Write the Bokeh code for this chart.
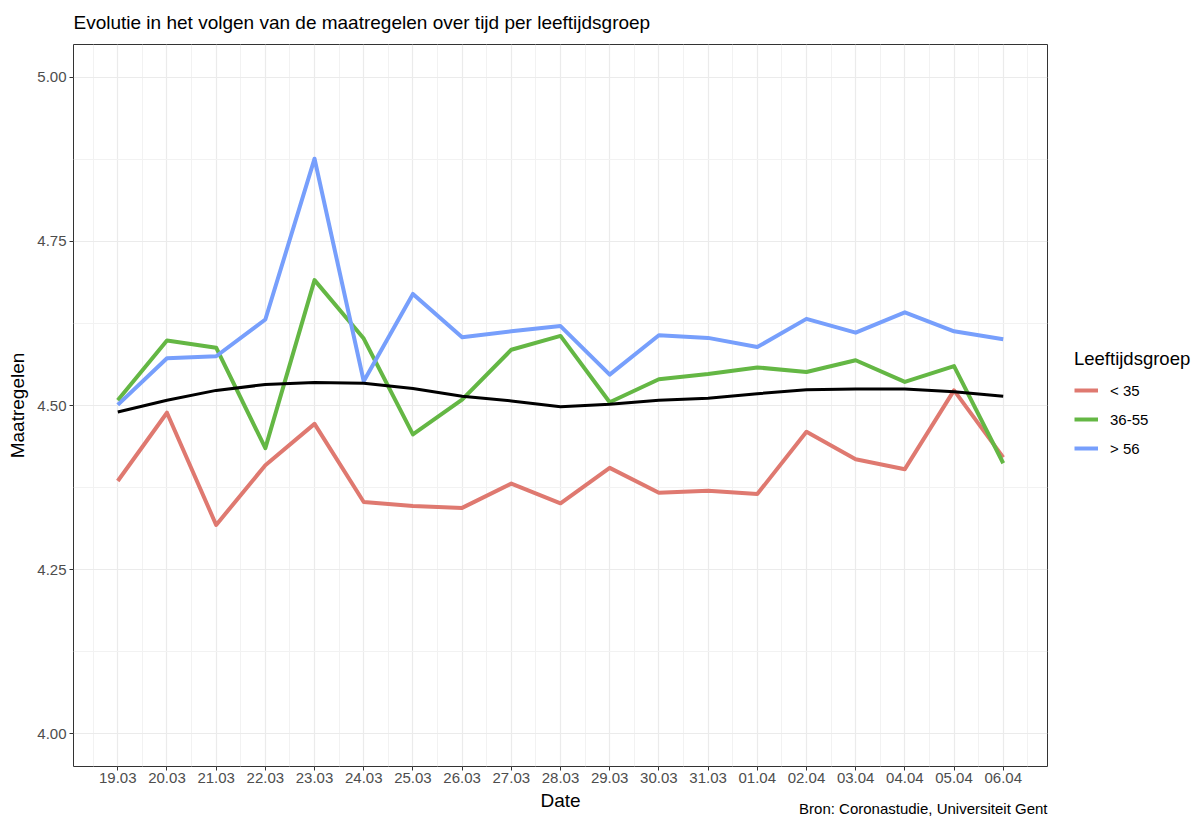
from bokeh.plotting import figure
from bokeh.layouts import row
from bokeh.models import FixedTicker, Range1d, Legend, LegendItem, Title, NumeralTickFormatter
from bokeh.embed import file_html
from bokeh.resources import INLINE

# ---- data ----
dates = ["19.03", "20.03", "21.03", "22.03", "23.03", "24.03", "25.03", "26.03", "27.03",
         "28.03", "29.03", "30.03", "31.03", "01.04", "02.04", "03.04", "04.04", "05.04", "06.04"]
groups = ["< 35", "36-55", "> 56"]
young = [4.385, 4.489, 4.318, 4.409, 4.472, 4.353, 4.347, 4.344, 4.381, 4.351,
         4.405, 4.367, 4.370, 4.365, 4.460, 4.418, 4.403, 4.523, 4.421]
middle = [4.508, 4.599, 4.588, 4.435, 4.691, 4.602, 4.456, 4.509, 4.585, 4.606,
          4.505, 4.540, 4.548, 4.558, 4.551, 4.569, 4.536, 4.560, 4.412]
old = [4.501, 4.572, 4.575, 4.631, 4.876, 4.537, 4.670, 4.604, 4.613, 4.621,
       4.547, 4.607, 4.603, 4.589, 4.632, 4.611, 4.642, 4.613, 4.601]
smooth = [4.490, 4.508, 4.523, 4.532, 4.535, 4.534, 4.526, 4.514, 4.507, 4.498,
          4.502, 4.508, 4.511, 4.518, 4.524, 4.525, 4.525, 4.521, 4.514]
y_ticks = [4.0, 4.25, 4.5, 4.75, 5.0]
y_minor = [4.125, 4.375, 4.625, 4.875]
colors = ["#DF7970", "#64B744", "#779FFC"]

FONT = "Liberation Sans"
xs = list(range(len(dates)))

p = figure(width=1048, height=819,
           x_range=Range1d(-0.9, len(dates) - 1 + 0.9),
           y_range=Range1d(3.95, 5.05),
           output_backend="svg", toolbar_location=None,
           min_border_left=73, min_border_right=1,
           min_border_top=44, min_border_bottom=53)

p.title.text = "Evolutie in het volgen van de maatregelen over tijd per leeftijdsgroep"
p.title.text_font = FONT
p.title.text_font_size = "19px"
p.title.text_font_style = "normal"
p.title.text_color = "black"
p.title.align = "left"
p.title.vertical_align = "top"
p.title.standoff = 20

p.background_fill_color = "white"
p.border_fill_color = "white"
p.outline_line_color = "#333333"
p.outline_line_width = 1

# grids
p.xgrid.grid_line_color = "#EBEBEB"
p.xgrid.grid_line_width = 1.2
p.xgrid.minor_grid_line_color = "#F2F2F2"
p.xgrid.minor_grid_line_width = 1
p.ygrid.grid_line_color = "#EBEBEB"
p.ygrid.grid_line_width = 1.2
p.ygrid.minor_grid_line_color = "#F2F2F2"
p.ygrid.minor_grid_line_width = 1

# axes
p.xaxis.ticker = FixedTicker(ticks=xs, minor_ticks=[i + 0.5 for i in range(-1, len(dates))])
p.xaxis.major_label_overrides = {i: d for i, d in enumerate(dates)}
p.yaxis.ticker = FixedTicker(ticks=y_ticks, minor_ticks=y_minor)
p.yaxis.formatter = NumeralTickFormatter(format="0.00")
p.xaxis.axis_label = "Date"
p.yaxis.axis_label = "Maatregelen"
for ax in (p.xaxis, p.yaxis):
    ax.axis_line_color = None
    ax.major_tick_line_color = "#333333"
    ax.major_tick_out = 4
    ax.major_tick_in = 0
    ax.minor_tick_out = 0
    ax.minor_tick_in = 0
    ax.major_label_text_font = FONT
    ax.major_label_text_font_size = "15px"
    ax.major_label_text_color = "#4D4D4D"
    ax.axis_label_text_font = FONT
    ax.axis_label_text_font_size = "19px"
    ax.axis_label_text_font_style = "normal"
    ax.axis_label_text_color = "black"
p.xaxis.major_label_standoff = 2
p.yaxis.major_label_standoff = 3
p.xaxis.axis_label_standoff = 4
p.yaxis.axis_label_standoff = 6

# lines
for vals, col in zip([young, middle, old], colors):
    p.line(xs, vals, line_color=col, line_width=4, line_cap="butt", line_join="round")
p.line(xs, smooth, line_color="black", line_width=3, line_cap="butt", line_join="round")

caption = Title(text="Bron: Coronastudie, Universiteit Gent", align="right",
                vertical_align="top",
                text_font=FONT, text_font_size="15px", text_font_style="normal",
                text_color="black", standoff=-28)
p.add_layout(caption, "below")

# ---- legend in its own narrow figure on the right ----
pl = figure(width=145, height=819, output_backend="svg", toolbar_location=None,
            x_axis_type=None, y_axis_type=None, min_border=0)
pl.outline_line_color = None
pl.grid.visible = False
pl.background_fill_color = "white"
pl.border_fill_color = "white"
# single-point lines: nothing drawn in the plot area, only used for the legend keys
key_renderers = [pl.line([0], [vals[0]], line_color=col, line_width=4, line_cap="butt")
                 for vals, col in zip([young, middle, old], colors)]

legend = Legend(items=[LegendItem(label=g, renderers=[r]) for g, r in zip(groups, key_renderers)],
                location=(26, 308),
                title="Leeftijdsgroep",
                title_text_font=FONT, title_text_font_size="18.5px", title_text_font_style="normal",
                title_text_color="black", title_standoff=10,
                label_text_font=FONT, label_text_font_size="15px", label_text_color="black",
                glyph_width=24, glyph_height=20, label_height=20, spacing=9,
                label_standoff=12, padding=0, margin=0,
                border_line_color=None, background_fill_alpha=0)
pl.add_layout(legend)

layout = row(p, pl, spacing=0)
open("out.html", "w").write(file_html(layout, INLINE))
